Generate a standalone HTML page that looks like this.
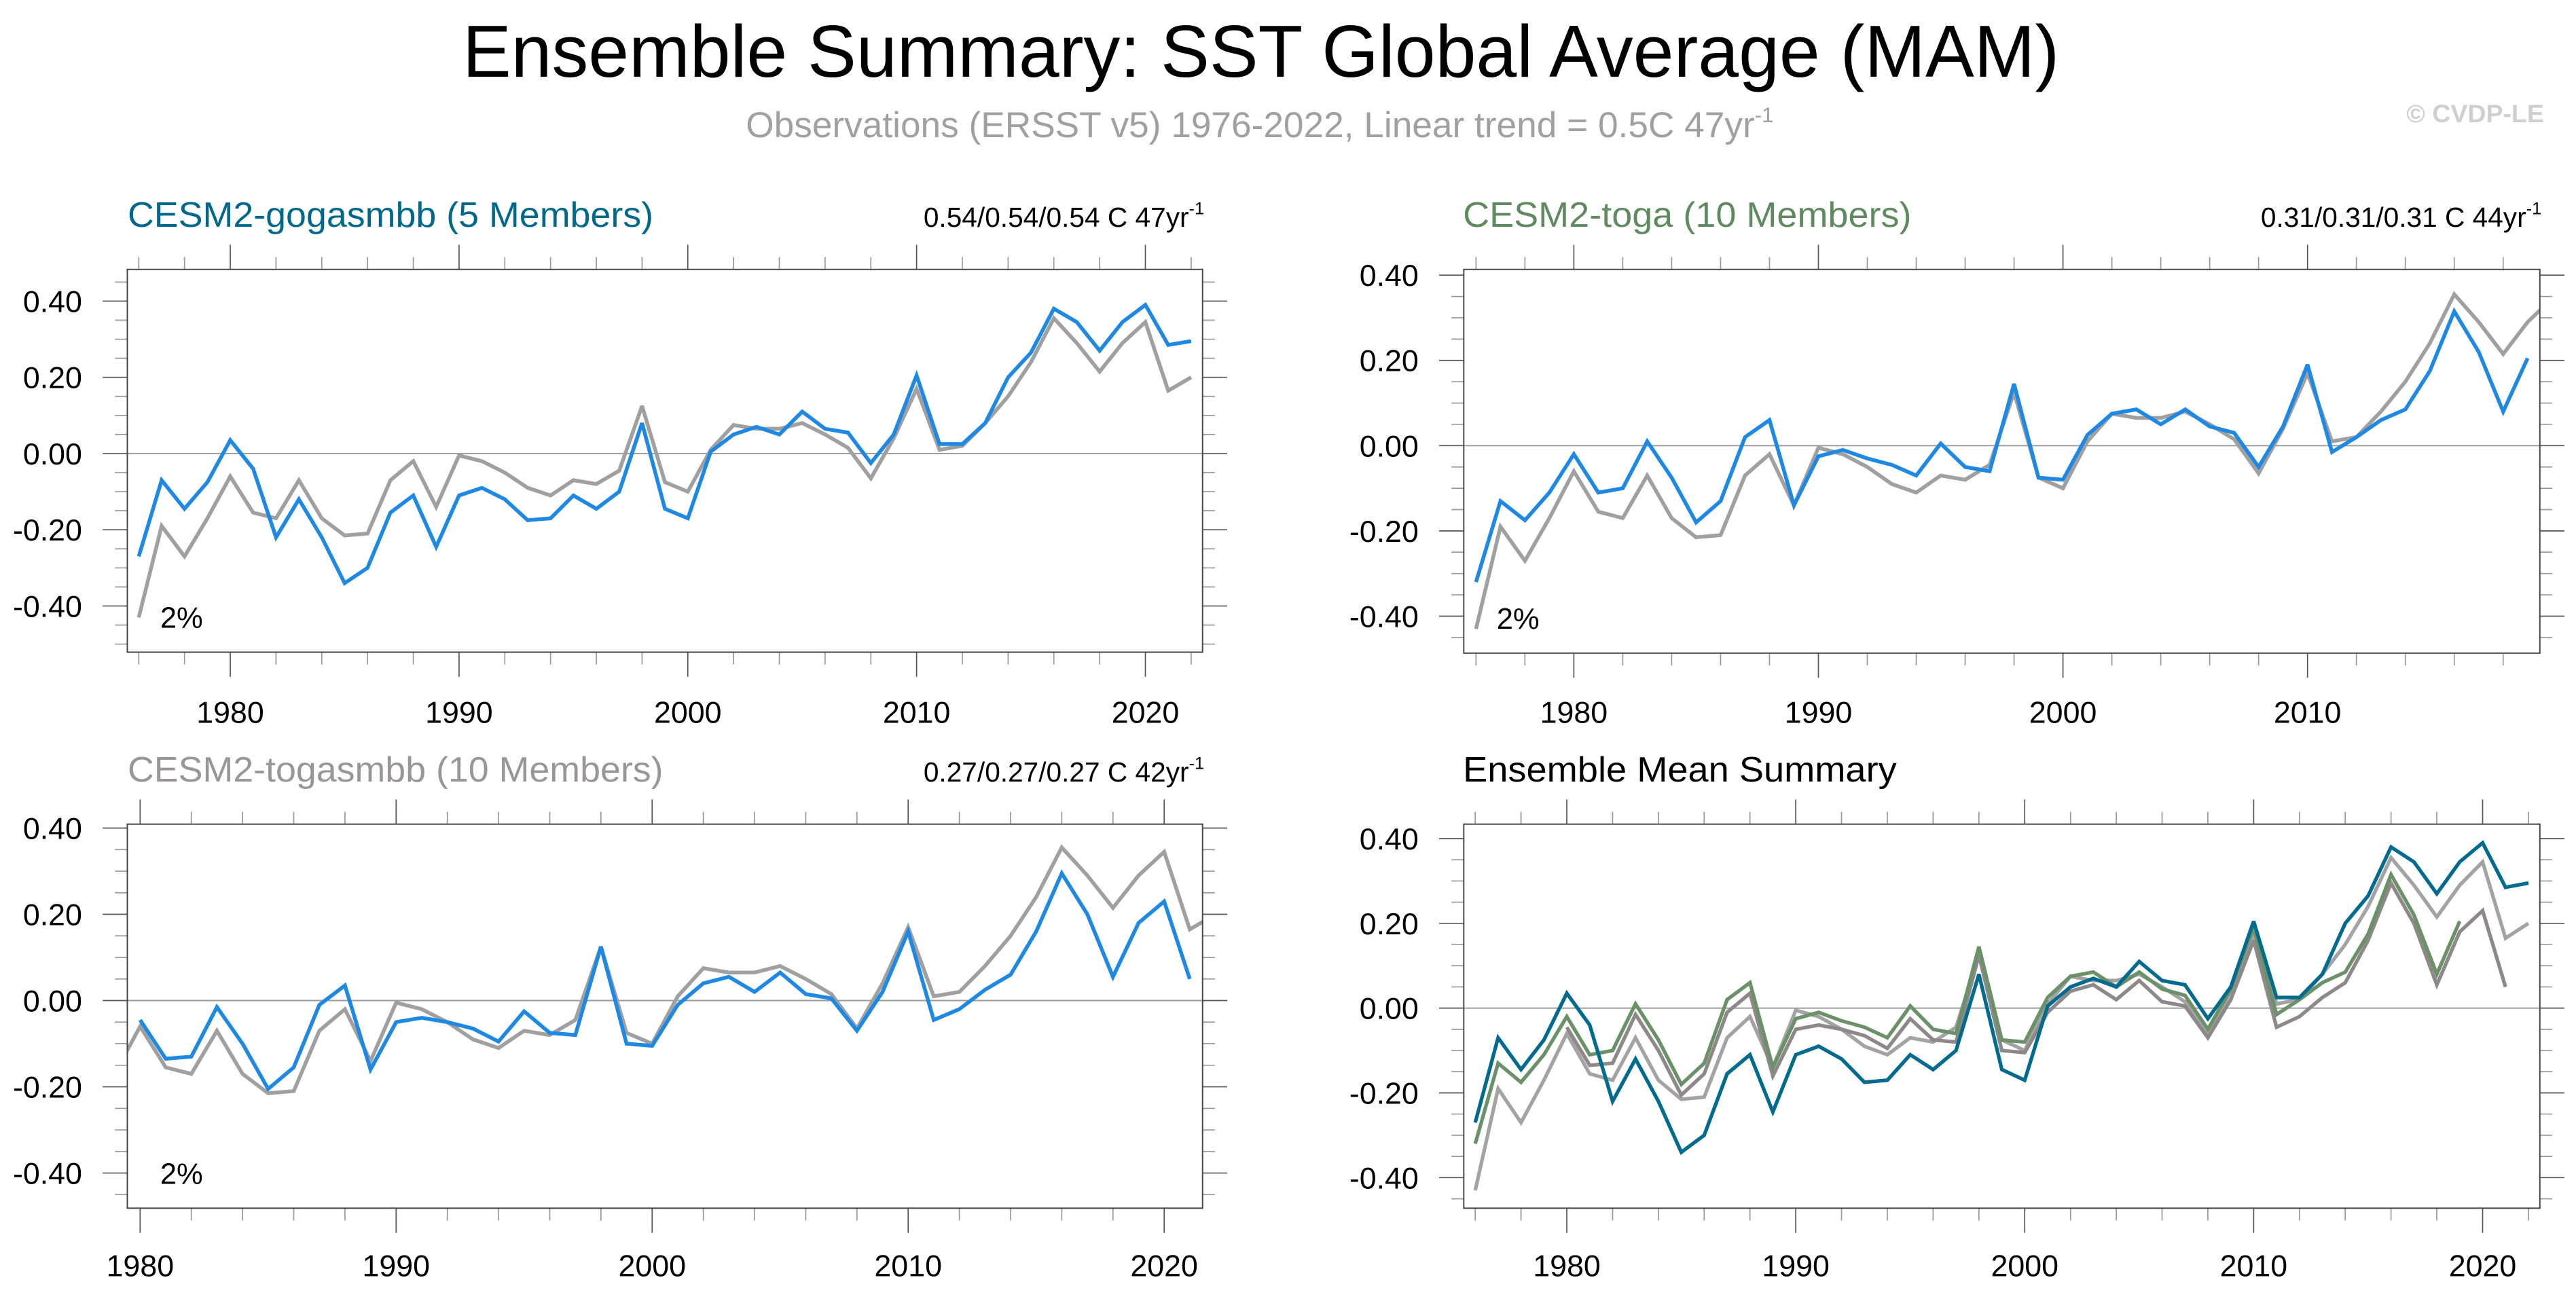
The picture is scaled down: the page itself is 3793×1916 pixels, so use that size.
<!DOCTYPE html>
<html><head><meta charset="utf-8"><title>Ensemble Summary: SST Global Average (MAM)</title>
<style>
html,body{margin:0;padding:0;background:#fff;}
svg{display:block;font-family:"Liberation Sans",Arial,sans-serif;}
</style></head>
<body>
<svg id="chart" xmlns="http://www.w3.org/2000/svg" width="3793" height="1916" viewBox="0 0 1568 792" preserveAspectRatio="none">
  <rect width="1568" height="792" fill="#fff"/>
  <text x="281.5" y="46.8" font-size="45" textLength="972" lengthAdjust="spacingAndGlyphs">Ensemble Summary: SST Global Average (MAM)</text>
  <text x="454" y="83.4" font-size="22" fill="#a0a0a0">Observations (ERSST v5) 1976-2022, Linear trend = 0.5C 47yr<tspan font-size="13" dy="-9">-1</tspan></text>
  <text x="1548.5" y="74.4" font-size="15.5" font-weight="bold" fill="#cfcfcf" text-anchor="end">© CVDP-LE</text>
  <g id="panels"></g>
</svg>
<script>
// ---- data ----
const obsYears = [1976,1977,1978,1979,1980,1981,1982,1983,1984,1985,1986,1987,1988,1989,1990,1991,1992,1993,1994,1995,1996,1997,1998,1999,2000,2001,2002,2003,2004,2005,2006,2007,2008,2009,2010,2011,2012,2013,2014,2015,2016,2017,2018,2019,2020,2021,2022];
const obsValues = [-0.43,-0.19,-0.27,-0.17,-0.06,-0.155,-0.17,-0.07,-0.17,-0.215,-0.21,-0.07,-0.02,-0.14,-0.005,-0.02,-0.05,-0.09,-0.11,-0.07,-0.08,-0.045,0.125,-0.075,-0.10,0.01,0.075,0.065,0.065,0.08,0.05,0.015,-0.065,0.04,0.17,0.01,0.02,0.08,0.15,0.24,0.355,0.29,0.215,0.29,0.345,0.165,0.20];
const gogaYears = [1976,1977,1978,1979,1980,1981,1982,1983,1984,1985,1986,1987,1988,1989,1990,1991,1992,1993,1994,1995,1996,1997,1998,1999,2000,2001,2002,2003,2004,2005,2006,2007,2008,2009,2010,2011,2012,2013,2014,2015,2016,2017,2018,2019,2020,2021,2022];
const gogaValues = [-0.27,-0.07,-0.145,-0.075,0.035,-0.04,-0.22,-0.12,-0.22,-0.34,-0.30,-0.155,-0.11,-0.245,-0.11,-0.09,-0.12,-0.175,-0.17,-0.11,-0.145,-0.10,0.08,-0.145,-0.17,0.005,0.05,0.07,0.05,0.11,0.065,0.055,-0.025,0.05,0.205,0.025,0.025,0.08,0.20,0.265,0.38,0.345,0.27,0.345,0.39,0.285,0.295];
const togaYears = [1976,1977,1978,1979,1980,1981,1982,1983,1984,1985,1986,1987,1988,1989,1990,1991,1992,1993,1994,1995,1996,1997,1998,1999,2000,2001,2002,2003,2004,2005,2006,2007,2008,2009,2010,2011,2012,2013,2014,2015,2016,2017,2018,2019];
const togaValues = [-0.32,-0.13,-0.175,-0.11,-0.02,-0.11,-0.10,0.01,-0.075,-0.18,-0.13,0.02,0.06,-0.14,-0.025,-0.01,-0.03,-0.045,-0.07,0.005,-0.05,-0.06,0.145,-0.075,-0.08,0.025,0.075,0.085,0.05,0.085,0.045,0.03,-0.05,0.045,0.19,-0.015,0.02,0.06,0.085,0.175,0.315,0.22,0.08,0.205];
const togasmbbYears = [1980,1981,1982,1983,1984,1985,1986,1987,1988,1989,1990,1991,1992,1993,1994,1995,1996,1997,1998,1999,2000,2001,2002,2003,2004,2005,2006,2007,2008,2009,2010,2011,2012,2013,2014,2015,2016,2017,2018,2019,2020,2021];
const togasmbbValues = [-0.045,-0.135,-0.13,-0.015,-0.10,-0.205,-0.155,-0.01,0.035,-0.16,-0.05,-0.04,-0.05,-0.065,-0.095,-0.025,-0.075,-0.08,0.125,-0.10,-0.105,-0.01,0.04,0.055,0.02,0.065,0.015,0.005,-0.07,0.02,0.16,-0.045,-0.02,0.025,0.06,0.16,0.295,0.20,0.055,0.18,0.23,0.05];
const yTickValues = [-0.4,-0.2,0,0.2,0.4];
const yTickLabels = ["-0.40","-0.20","0.00","0.20","0.40"];
const xTickYears = [1980,1990,2000,2010,2020];
const xTickLabels = ["1980","1990","2000","2010","2020"];

const NS = "http://www.w3.org/2000/svg";
const root = document.getElementById('panels');
function mk(tag, attrs, parent){
  const e = document.createElementNS(NS, tag);
  for (const k in attrs) e.setAttribute(k, attrs[k]);
  (parent||root).appendChild(e);
  return e;
}

const panels = [
  {id:'p1', box:[77.5,164,732,397], x0:1975.5, x1:2022.5, yZero:276.1, yPer:232, title:'CESM2-gogasmbb (5 Members)', titleW:320, titleX:77.7, titleColor:'#00688b', trend:'0.54/0.54/0.54 C 47yr', pct:true, xlabY:440,
   series:[{y:obsYears,v:obsValues,c:'#a0a0a0',w:2.3,n:'observations-line'},{y:gogaYears,v:gogaValues,c:'#1e88e5',w:2.3,n:'gogasmbb-line'}]},
  {id:'p2', box:[891,164,1546,397.6], x0:1975.5, x1:2019.5, yZero:271.3, yPer:259.5, title:'CESM2-toga (10 Members)', titleW:273, titleX:890.5, titleColor:'#5f8a5f', trend:'0.31/0.31/0.31 C 44yr', pct:true, xlabY:440,
   series:[{y:obsYears,v:obsValues,c:'#a0a0a0',w:2.3,n:'observations-line'},{y:togaYears,v:togaValues,c:'#1e88e5',w:2.3,n:'toga-line'}]},
  {id:'p3', box:[77.5,501.7,732,735.5], x0:1979.5, x1:2021.5, yZero:609.1, yPer:262.5, title:'CESM2-togasmbb (10 Members)', titleW:326, titleX:77.7, titleColor:'#9a9696', trend:'0.27/0.27/0.27 C 42yr', pct:true, xlabY:777,
   series:[{y:obsYears,v:obsValues,c:'#a0a0a0',w:2.3,n:'observations-line'},{y:togasmbbYears,v:togasmbbValues,c:'#1e88e5',w:2.3,n:'togasmbb-line'}]},
  {id:'p4', box:[891,501.7,1546,735.5], x0:1975.5, x1:2022.5, yZero:613.7, yPer:258, title:'Ensemble Mean Summary', titleW:264, titleX:890.5, titleColor:'#000', trend:null, pct:false, xlabY:777,
   series:[{y:obsYears,v:obsValues,c:'#a3a3a3',w:2.2,n:'observations-line'},{y:togasmbbYears,v:togasmbbValues,c:'#8e8889',w:2.2,n:'togasmbb-mean-line'},{y:togaYears,v:togaValues,c:'#6a9168',w:2.2,n:'toga-mean-line'},{y:gogaYears,v:gogaValues,c:'#006b8f',w:2.2,n:'gogasmbb-mean-line'}]}
];

panels.forEach(p=>{
  const [L,T,R,B] = p.box;
  const xs = yr => L + (yr - p.x0) / (p.x1 - p.x0) * (R - L);
  const ys = v => p.yZero - v * p.yPer;
  const g = mk('g', {});
  
  
  const clip = mk('clipPath', {id:'clip-'+p.id}, g);
  mk('rect', {x:L, y:T, width:R-L, height:B-T}, clip);

  const t = mk('text', {x:p.titleX, y:T-26, 'font-size':21.5, fill:p.titleColor, textLength:p.titleW, lengthAdjust:'spacingAndGlyphs'}, g);
  t.textContent = p.title;
  
  
  if (p.trend){
    const tr = mk('text', {x:R+1, y:T-26, 'font-size':16.8, 'text-anchor':'end', fill:'#000'}, g);
    tr.textContent = p.trend;
    const sup = mk('tspan', {'font-size':10.5, dy:-7.5}, tr);
    sup.textContent = '-1';
    
    
  }

  const yMinV = (p.yZero - B)/p.yPer, yMaxV = (p.yZero - T)/p.yPer;
  for (let k = Math.ceil(yMinV/0.05 - 1e-6); k*0.05 <= yMaxV + 1e-6; k++){
    const v = k*0.05, y = ys(v);
    const major = Math.abs(Math.round(v*100) % 20) === 0;
    const len = major ? 15 : 7.5;
    const c = major ? '#555' : '#999';
    const a = mk('line', {x1:L-len, x2:L, y1:y, y2:y, stroke:c, 'stroke-width':0.7}, g);
    
    
    const b = mk('line', {x1:R, x2:R+len, y1:y, y2:y, stroke:c, 'stroke-width':0.7}, g);
    
    
  }
  yTickValues.forEach((v,i)=>{
    const y = ys(v);
    if (y < T-1 || y > B+1) return;
    const lab = mk('text', {x:L-27.5, y:y+6.6, 'font-size':18.5, 'text-anchor':'end', fill:'#000'}, g);
    lab.textContent = yTickLabels[i];
    
    
  });

  for (let yr = Math.ceil(p.x0); yr <= p.x1; yr++){
    if (yr % 2 !== 0) continue;
    const x = xs(yr);
    const major = yr % 10 === 0;
    const len = major ? 15 : 7.5;
    const c = major ? '#555' : '#999';
    const a = mk('line', {x1:x, x2:x, y1:T-len, y2:T, stroke:c, 'stroke-width':0.7}, g);
    
    
    const b = mk('line', {x1:x, x2:x, y1:B, y2:B+len, stroke:c, 'stroke-width':0.7}, g);
    
    
  }
  xTickYears.forEach((yr,i)=>{
    if (yr < p.x0 || yr > p.x1) return;
    const lab = mk('text', {x:xs(yr), y:p.xlabY, 'font-size':18.5, 'text-anchor':'middle', fill:'#000'}, g);
    lab.textContent = xTickLabels[i];
    
    
  });

  const z = mk('line', {x1:L, x2:R, y1:ys(0), y2:ys(0), stroke:'#9a9a9a', 'stroke-width':0.8}, g);
  
  

  const sg = mk('g', {'clip-path':'url(#clip-'+p.id+')'}, g);
  p.series.forEach(s=>{
    const pts = s.y.map((yr,i)=> xs(yr).toFixed(2)+','+ys(s.v[i]).toFixed(2)).join(' ');
    const pl = mk('polyline', {points:pts, fill:'none', stroke:s.c, 'stroke-width':s.w, 'stroke-linejoin':'miter', 'stroke-miterlimit':3}, sg);
    
    
  });

  const fr = mk('rect', {x:L, y:T, width:R-L, height:B-T, fill:'none', stroke:'#444', 'stroke-width':0.8}, g);
  
  

  if (p.pct){
    const pc = mk('text', {x:L+20, y:B-14.8, 'font-size':18, fill:'#000'}, g);
    pc.textContent = '2%';
    
    
  }
});
</script>
</body></html>
